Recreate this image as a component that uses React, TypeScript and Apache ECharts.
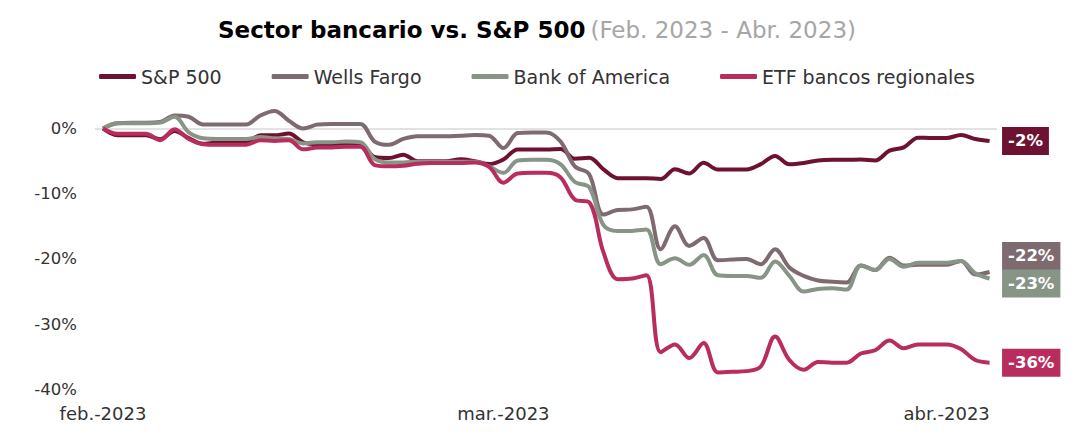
import React, { useEffect, useRef } from "react";
import * as echarts from "echarts";

// Chart-frame dates (daily, weekends carry the previous value)
const dates: string[] = [
  "2023-02-01","2023-02-02","2023-02-03","2023-02-04","2023-02-05","2023-02-06","2023-02-07","2023-02-08","2023-02-09","2023-02-10",
  "2023-02-11","2023-02-12","2023-02-13","2023-02-14","2023-02-15","2023-02-16","2023-02-17","2023-02-18","2023-02-19","2023-02-20",
  "2023-02-21","2023-02-22","2023-02-23","2023-02-24","2023-02-25","2023-02-26","2023-02-27","2023-02-28",
  "2023-03-01","2023-03-02","2023-03-03","2023-03-04","2023-03-05","2023-03-06","2023-03-07","2023-03-08","2023-03-09","2023-03-10",
  "2023-03-11","2023-03-12","2023-03-13","2023-03-14","2023-03-15","2023-03-16","2023-03-17","2023-03-18","2023-03-19","2023-03-20",
  "2023-03-21","2023-03-22","2023-03-23","2023-03-24","2023-03-25","2023-03-26","2023-03-27","2023-03-28","2023-03-29","2023-03-30",
  "2023-03-31","2023-04-01","2023-04-02","2023-04-03","2023-04-04",
];

const sp500: number[] = [
  0, -1.04, -1.04, -1.04, -1.64, -0.38, -1.48, -2.35, -2.14, -2.14,
  -2.14, -1.02, -1.05, -0.77, -2.14, -2.41, -2.41, -2.41, -2.41, -4.37,
  -4.52, -4.01, -5.02, -5.02, -5.02, -4.73, -5.01, -5.46, -4.75, -3.21,
  -3.21, -3.21, -3.14, -4.63, -4.49, -6.25, -7.61, -7.61, -7.61, -7.75,
  -6.23, -6.89, -5.25, -6.29, -6.29, -6.29, -5.46, -4.2, -5.5, -5.3,
  -4.9, -4.8, -4.8, -4.75, -4.9, -3.4, -2.9, -1.4, -1.45, -1.45,
  -1.0, -1.6, -1.9,
];

const wellsFargo: number[] = [
  0, 0.8, 0.9, 0.9, 1.0, 2.0, 1.8, 0.6, 0.6, 0.6,
  0.6, 2.0, 2.7, 1.2, 0.0, 0.6, 0.7, 0.7, 0.7, -2.0,
  -2.5, -1.6, -1.2, -1.2, -1.2, -1.1, -1.0, -1.1, -3.0, -0.7,
  -0.6, -0.6, -2.0, -5.8, -7.0, -13.2, -12.5, -12.4, -12.0, -18.5,
  -15.0, -18.0, -16.8, -20.2, -20.1, -20.0, -20.8, -18.5, -21.3, -22.6,
  -23.3, -23.5, -23.6, -21.0, -21.7, -19.8, -21.0, -20.9, -20.9, -20.9,
  -20.3, -22.4, -22.0,
];

const bankOfAmerica: number[] = [
  0, 0.8, 0.8, 0.8, 0.9, 1.8, -0.6, -1.5, -1.6, -1.6,
  -1.6, -1.3, -1.5, -1.6, -2.3, -2.1, -2.1, -2.0, -2.1, -4.7,
  -5.2, -5.2, -5.1, -5.1, -5.1, -5.1, -5.1, -5.8, -6.8, -4.9,
  -4.8, -4.8, -5.5, -8.2, -9.0, -14.8, -15.7, -15.7, -15.5, -20.8,
  -19.9, -20.9, -19.4, -22.5, -22.6, -22.6, -22.9, -20.4, -22.6, -25.0,
  -24.6, -24.5, -24.7, -21.0, -21.7, -20.0, -21.2, -20.6, -20.6, -20.6,
  -20.3, -22.2, -23.0,
];

const etfRegionales: number[] = [
  0, -0.8, -0.8, -0.8, -1.8, -0.1, -1.6, -2.4, -2.5, -2.5,
  -2.5, -1.8, -1.9, -1.8, -3.2, -2.9, -2.9, -2.8, -2.8, -5.6,
  -5.8, -5.7, -5.4, -5.3, -5.3, -5.3, -5.2, -5.9, -8.3, -6.9,
  -6.8, -6.8, -7.5, -10.9, -11.3, -19.0, -23.1, -23.0, -22.5, -34.3,
  -33.1, -35.2, -32.9, -37.4, -37.3, -37.2, -36.5, -31.9, -35.5, -37.0,
  -35.8, -35.9, -35.9, -34.5, -34.0, -32.5, -33.7, -33.1, -33.1, -33.1,
  -33.8, -35.5, -35.9,
];

const seriesNames = ["S&P 500", "Wells Fargo", "Bank of America", "ETF bancos regionales"];
const seriesColors = ["#6e1232", "#7d6b70", "#879486", "#b92d5e"];
const xTickDates = ["2023-02-01", "2023-03-01", "2023-04-01"];
const xTickLabels = ["feb.-2023", "mar.-2023", "abr.-2023"];
const yTicks = [-40, -30, -20, -10, 0];

const FONT = "'DejaVu Sans', sans-serif";

export default function App() {
  const ref = useRef<HTMLDivElement>(null);

  useEffect(() => {
    if (!ref.current) return;
    const chart = echarts.init(ref.current, null, { renderer: "svg" });
    const allSeries = [sp500, wellsFargo, bankOfAmerica, etfRegionales];
    const labelOffsets = [0, -16, 5, 0];
    const last = dates.length - 1;
    const tickIdx = xTickDates.map((d) => dates.indexOf(d));

    const option: any = {
      animation: false,
      backgroundColor: "#ffffff",
      title: {
        text: "{a|Sector bancario vs. S&P 500} {b|(Feb. 2023 - Abr. 2023)}",
        left: "center",
        top: 13,
        textStyle: {
          rich: {
            a: { fontSize: 23, fontWeight: "bold", color: "#000000", fontFamily: FONT },
            b: { fontSize: 23, fontWeight: "normal", color: "#a6a6a6", fontFamily: FONT },
          },
        },
      },
      legend: {
        top: 62,
        left: "center",
        icon: "roundRect",
        itemWidth: 37,
        itemHeight: 5,
        itemGap: 50,
        textStyle: { fontSize: 19, color: "#333333", fontFamily: FONT },
        data: seriesNames,
      },
      grid: { left: 95, right: 77, top: 128.5, bottom: 51.6 },
      xAxis: {
        type: "value",
        min: -0.56,
        max: last + 0.52,
        axisLine: { show: false },
        axisTick: { show: false },
        splitLine: { show: false },
        axisLabel: {
          customValues: tickIdx,
          fontSize: 18,
          color: "#333333",
          fontFamily: FONT,
          margin: 15,
          formatter: (v: number) => {
            const i = tickIdx.indexOf(Math.round(v));
            return i >= 0 ? xTickLabels[i] : "";
          },
        },
      },
      yAxis: {
        type: "value",
        min: yTicks[0],
        max: yTicks[yTicks.length - 1],
        interval: 10,
        axisLine: { show: false },
        axisTick: { show: false },
        axisLabel: { formatter: "{value}%", fontSize: 16.5, color: "#333333", fontFamily: FONT, margin: 18 },
        splitLine: {
          show: true,
          lineStyle: {
            color: yTicks.map((t) => (t === 0 ? "#d9d9d9" : "transparent")),
            width: 1.5,
          },
        },
      },
      series: allSeries.map((vals, si) => ({
        name: seriesNames[si],
        type: "line",
        data: vals.map((v, i) => [i, v]),
        smooth: 0.35,
        showSymbol: false,
        clip: false,
        color: seriesColors[si],
        lineStyle: { width: 4, color: seriesColors[si] },
        markPoint: {
          silent: true,
          symbol: "circle",
          symbolSize: 1,
          itemStyle: { color: "transparent" },
          data: [{ coord: [last, vals[last]], value: vals[last] }],
          label: {
            show: true,
            position: "right",
            distance: 12,
            offset: [0, labelOffsets[si]],
            formatter: (p: any) => Math.round(p.value) + "%",
            backgroundColor: seriesColors[si],
            color: "#ffffff",
            fontWeight: "bold",
            fontSize: 16.5,
            lineHeight: 18,
            fontFamily: FONT,
            padding: [5, 6, 5, 6],
          },
        },
      })),
    };

    chart.setOption(option);
    return () => chart.dispose();
  }, []);

  return (
    <div
      ref={ref}
      style={{ position: "fixed", left: 0, top: 0, width: 1074, height: 441, background: "#fff" }}
    />
  );
}
